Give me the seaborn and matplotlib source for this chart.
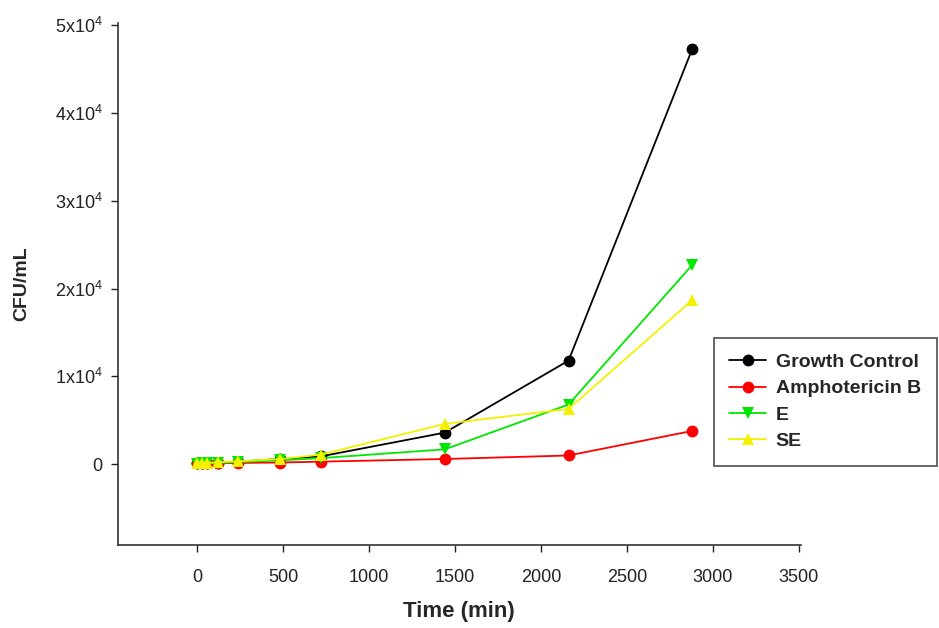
import seaborn as sns
import matplotlib.pyplot as plt
import numpy as np
import pandas as pd

# time points (min)
time_min = [0, 30, 60, 120, 240, 480, 720, 1440, 2160, 2880]

# CFU/mL per treatment
growth_control = [100, 120, 150, 200, 300, 600, 900, 3600, 11800, 47300]
amphotericin_b = [100, 100, 110, 120, 150, 200, 300, 600, 1000, 3800]
e_extract = [80, 90, 100, 150, 250, 450, 700, 1700, 6800, 22700]
se_extract = [120, 140, 160, 250, 350, 600, 1100, 4600, 6300, 18700]

series_names = ['Growth Control', 'Amphotericin B', 'E', 'SE']
series_values = [growth_control, amphotericin_b, e_extract, se_extract]

y_ticks = [0, 10000, 20000, 30000, 40000, 50000]
y_tick_labels = ['0', '1x10$^{4}$', '2x10$^{4}$', '3x10$^{4}$', '4x10$^{4}$', '5x10$^{4}$']
x_ticks = [0, 500, 1000, 1500, 2000, 2500, 3000, 3500]

rows = []
for name, vals in zip(series_names, series_values):
    for t, v in zip(time_min, vals):
        rows.append({'Time': t, 'CFU': v, 'Treatment': name})
df = pd.DataFrame(rows)

sns.set_style('ticks')
plt.rcParams['font.family'] = ['Liberation Sans', 'DejaVu Sans']
plt.rcParams['mathtext.fontset'] = 'custom'
plt.rcParams['mathtext.rm'] = 'Liberation Sans'
plt.rcParams['mathtext.default'] = 'regular'

palette = {'Growth Control': '#000000', 'Amphotericin B': '#ff0000',
           'E': '#00e800', 'SE': '#f2f200'}
markers = {'Growth Control': 'o', 'Amphotericin B': 'o', 'E': 'v', 'SE': '^'}

fig = plt.figure(figsize=(9.39, 6.28), dpi=100)
ax = fig.add_axes([0.1257, 0.132, 0.727, 0.831])

sns.lineplot(data=df, x='Time', y='CFU', hue='Treatment', style='Treatment',
             palette=palette, markers=markers, dashes=False, markersize=8.5,
             markeredgewidth=0, linewidth=1.3, ax=ax, legend=False)

ax.set_xlim(-460, 3510)
ax.set_ylim(-9200, 50200)
ax.set_xticks(x_ticks)
ax.set_yticks(y_ticks)
ax.set_yticklabels(y_tick_labels)
ax.tick_params(axis='both', direction='out', length=5, width=1, labelsize=13,
               colors='#222222')
ax.tick_params(axis='x', pad=12)
ax.tick_params(axis='y', pad=6)
ax.set_xlabel('Time (min)', fontsize=16, fontweight='bold', labelpad=11)
ax.set_ylabel('CFU/mL', fontsize=14, fontweight='bold', labelpad=18)
for side in ['top', 'right']:
    ax.spines[side].set_visible(False)
for side in ['left', 'bottom']:
    ax.spines[side].set_color('#333333')
    ax.spines[side].set_linewidth(1.2)

# legend handles built from the same styles
handles = []
for name in series_names:
    h, = ax.plot([], [], color=palette[name], marker=markers[name],
                 markersize=8.5, markeredgewidth=0, linewidth=1.3)
    handles.append(h)
leg = fig.legend(handles, series_names, loc='upper left',
                 bbox_to_anchor=(0.760, 0.462), borderaxespad=0,
                 frameon=True, fancybox=False, shadow=False,
                 prop={'weight': 'bold', 'size': 14},
                 handlelength=1.9, handletextpad=0.5, borderpad=0.8,
                 labelspacing=0.45)
leg.get_frame().set_edgecolor('#222222')
leg.get_frame().set_linewidth(1.2)

fig.savefig('out.png', dpi=100)
